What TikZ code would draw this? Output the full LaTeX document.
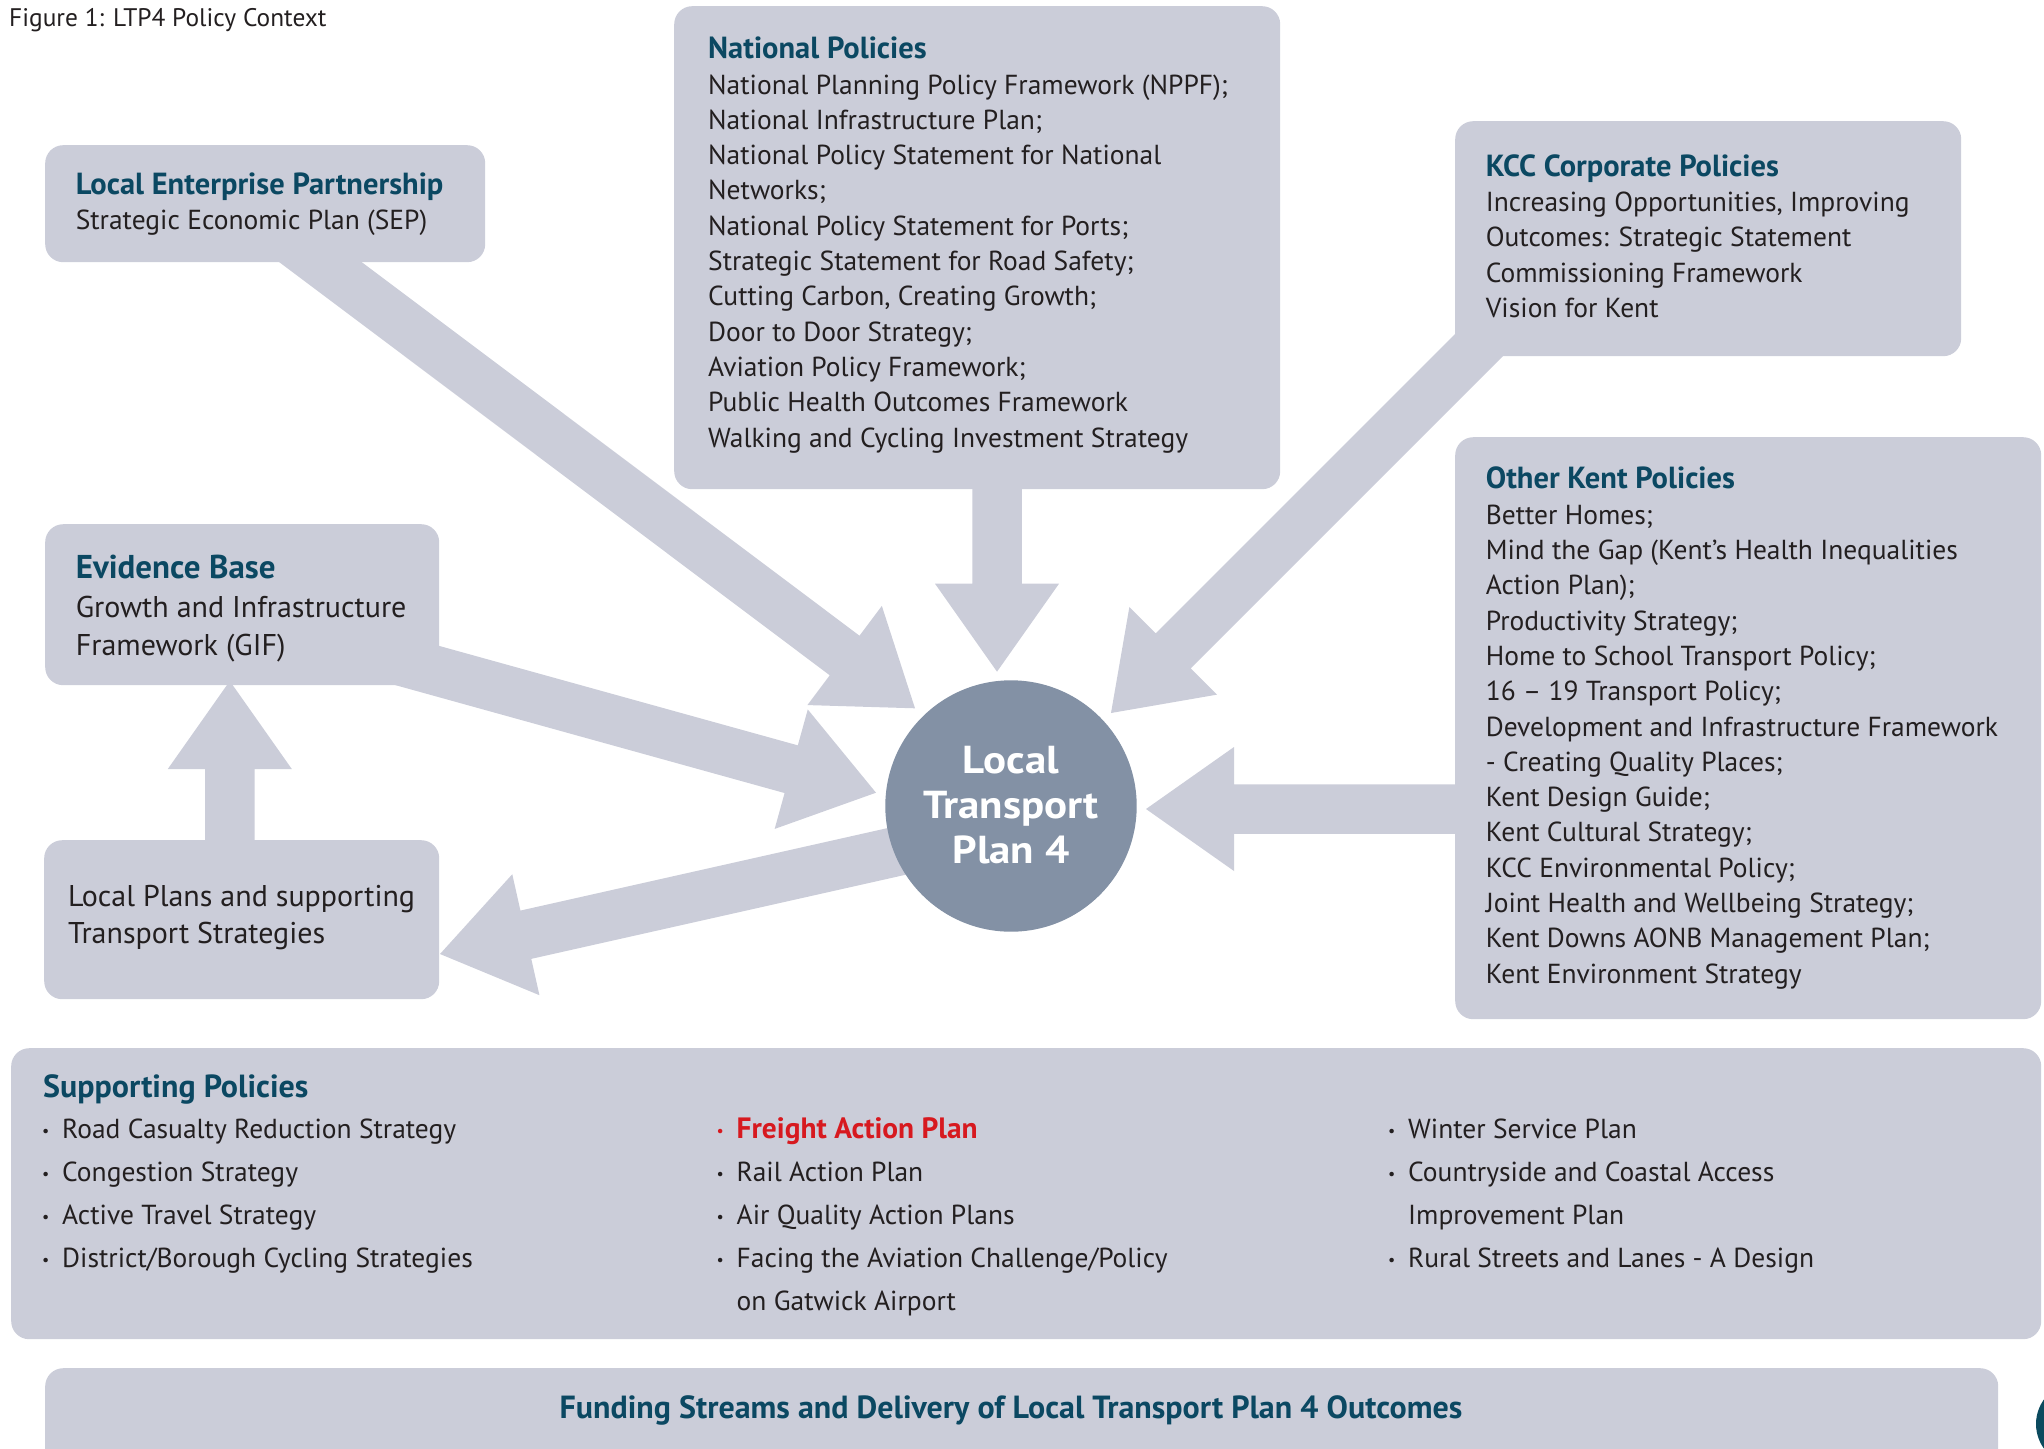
\documentclass[tikz,border=0pt]{standalone}
\usepackage{fontspec}
\setmainfont{PT Sans}
\usetikzlibrary{calc}
\definecolor{boxfill}{HTML}{CBCDD9}
\definecolor{circfill}{HTML}{8391A5}
\definecolor{headc}{HTML}{0B4862}
\definecolor{bodyc}{HTML}{231F20}
\definecolor{redc}{HTML}{D7191F}
\definecolor{darkteal}{HTML}{0B4A5E}
\newcommand\phead[2][30.5]{\textcolor{headc}{\fontsize{#1}{#1}\selectfont\bfseries #2}}
\newcommand\pbul{\makebox[20pt][l]{\fontsize{16}{16}\selectfont\raisebox{2pt}{•}}}
\newcommand\pind{\makebox[20pt]{}}
% block arrow from start #1 to tip #2
\newcommand\blockarrow[2]{%
  \path ($(#2)!88pt!(#1)$) coordinate (ba-b);
  \fill[arrowfill] ($(#1)!24.75pt!90:(#2)$) -- ($(ba-b)!24.75pt!-90:(#1)$)
    -- ($(ba-b)!62pt!-90:(#1)$) -- (#2) -- ($(ba-b)!62pt!90:(#1)$)
    -- ($(ba-b)!24.75pt!90:(#1)$) -- ($(#1)!24.75pt!-90:(#2)$) -- cycle;
}
\begin{document}
\begin{tikzpicture}[x=1pt,y=-1pt,
  pbox/.style={fill=boxfill, rounded corners=18pt, inner sep=0pt, anchor=north west, draw=none},
  txt/.style={inner sep=0pt, anchor=north west, align=left, text=bodyc, font=\fontsize{27.5}{35.3}\selectfont},
  bigtxt/.style={txt, font=\fontsize{30}{38.5}\selectfont},
  suptxt/.style={txt, font=\fontsize{27.5}{43}\selectfont},
  arrowfill/.style={fill=boxfill}]
\useasboundingbox (0,0) rectangle (2044,1448);
\clip (0,0) rectangle (2044,1448);

% arrow end points
\coordinate (lepS) at (288.6,238.2);  \coordinate (lepT) at (915,708.3);
\coordinate (natS) at (997,470);      \coordinate (natT) at (997,671.7);
\coordinate (kccS) at (1491,333);     \coordinate (kccT) at (1111,713);
\coordinate (okpS) at (1480,809);     \coordinate (okpT) at (1146,809);
\coordinate (evbS) at (365.3,651.1);  \coordinate (evbT) at (876,792.7);
\coordinate (lplS) at (1011,825.7);   \coordinate (lplT) at (440,954);
\coordinate (upS)  at (229.8,860);    \coordinate (upT)  at (229.8,681);

\blockarrow{lepS}{lepT}
\blockarrow{natS}{natT}
\blockarrow{kccS}{kccT}
\blockarrow{okpS}{okpT}
\blockarrow{evbS}{evbT}
\blockarrow{lplS}{lplT}
\blockarrow{upS}{upT}

% boxes
\node[pbox, minimum width=440pt, minimum height=117pt] (lep) at (45,145) {};
\node[pbox, minimum width=606pt, minimum height=483pt] (nat) at (674,6) {};
\node[pbox, minimum width=506pt, minimum height=235pt] (kcc) at (1455,121) {};
\node[pbox, minimum width=586pt, minimum height=582pt] (okp) at (1455,437) {};
\node[pbox, minimum width=394pt, minimum height=161pt] (evb) at (45,524) {};
\node[pbox, minimum width=395pt, minimum height=159pt] (lpl) at (44,840) {};
\node[pbox, minimum width=2030pt, minimum height=291pt] (sup) at (11,1048) {};
\node[pbox, minimum width=1953pt, minimum height=120pt] (fund) at (45,1368) {};

% central circle
\node[circle, fill=circfill, minimum size=251.4pt, inner sep=0pt] (ltp) at (1011,806) {};
\node[inner sep=0pt, align=center, text=white, font=\fontsize{39}{45}\selectfont\bfseries] (ltptext) at (1011,809) {\strut\scalebox{1.1}[1]{Local}\\\scalebox{1.1}[1]{Transport}\\\scalebox{1.1}[1]{Plan 4}\strut};

% page disc
\fill[darkteal] (2078,1424) circle (42);

% texts
\node[inner sep=0pt, anchor=base west, text=bodyc, font=\fontsize{25.4}{30}\selectfont] (title) at (9,26.5) {Figure 1: LTP4 Policy Context};

\node[txt] (leptext) at (75.6,169.4) {\strut\phead{Local Enterprise Partnership}\\
Strategic Economic Plan (SEP)};

\node[txt] (nattext) at (708,33.8) {\strut\phead{National Policies}\\
National Planning Policy Framework (NPPF);\\
National Infrastructure Plan;\\
National Policy Statement for National\\
Networks;\\
National Policy Statement for Ports;\\
Strategic Statement for Road Safety;\\
Cutting Carbon, Creating Growth;\\
Door to Door Strategy;\\
Aviation Policy Framework;\\
Public Health Outcomes Framework\\
Walking and Cycling Investment Strategy};

\node[txt] (kcctext) at (1485.6,151.2) {\strut\phead{KCC Corporate Policies}\\
Increasing Opportunities, Improving\\
Outcomes: Strategic Statement\\
Commissioning Framework\\
Vision for Kent};

\node[txt] (okptext) at (1485.6,464) {\strut\phead{Other Kent Policies}\\
Better Homes;\\
Mind the Gap (Kent’s Health Inequalities\\
Action Plan);\\
Productivity Strategy;\\
Home to School Transport Policy;\\
16 – 19 Transport Policy;\\
Development and Infrastructure Framework\\
- Creating Quality Places;\\
Kent Design Guide;\\
Kent Cultural Strategy;\\
KCC Environmental Policy;\\
Joint Health and Wellbeing Strategy;\\
Kent Downs AONB Management Plan;\\
Kent Environment Strategy};

\node[bigtxt] (evbtext) at (75.6,551.8) {\strut\phead[33]{Evidence Base}\\
Growth and Infrastructure\\
Framework (GIF)};

\node[bigtxt, font=\fontsize{30}{37.8}\selectfont] (lpltext) at (67.8,879.4) {\strut Local Plans and supporting\\
Transport Strategies};

\node[inner sep=0pt, anchor=base west] (suphead) at (43,1097.5) {\phead[32]{Supporting Policies}};

\node[suptxt] (supc1) at (42,1107.8) {\strut\pbul Road Casualty Reduction Strategy\\
\pbul Congestion Strategy\\
\pbul Active Travel Strategy\\
\pbul District/Borough Cycling Strategies};

\node[suptxt] (supc2) at (716.5,1107.8) {\strut{\color{redc}\pbul\fontsize{29.4}{29.4}\selectfont\bfseries Freight Action Plan}\\
\pbul Rail Action Plan\\
\pbul Air Quality Action Plans\\
\pbul Facing the Aviation Challenge/Policy\\
\pind on Gatwick Airport};

\node[suptxt] (supc3) at (1388,1107.8) {\strut\pbul Winter Service Plan\\
\pbul Countryside and Coastal Access\\
\pind Improvement Plan\\
\pbul Rural Streets and Lanes - A Design};

\node[inner sep=0pt, anchor=base, text=headc, font=\fontsize{32}{36}\selectfont\bfseries] (fundtext) at (1011,1418) {Funding Streams and Delivery of Local Transport Plan 4 Outcomes};
\end{tikzpicture}
\end{document}
